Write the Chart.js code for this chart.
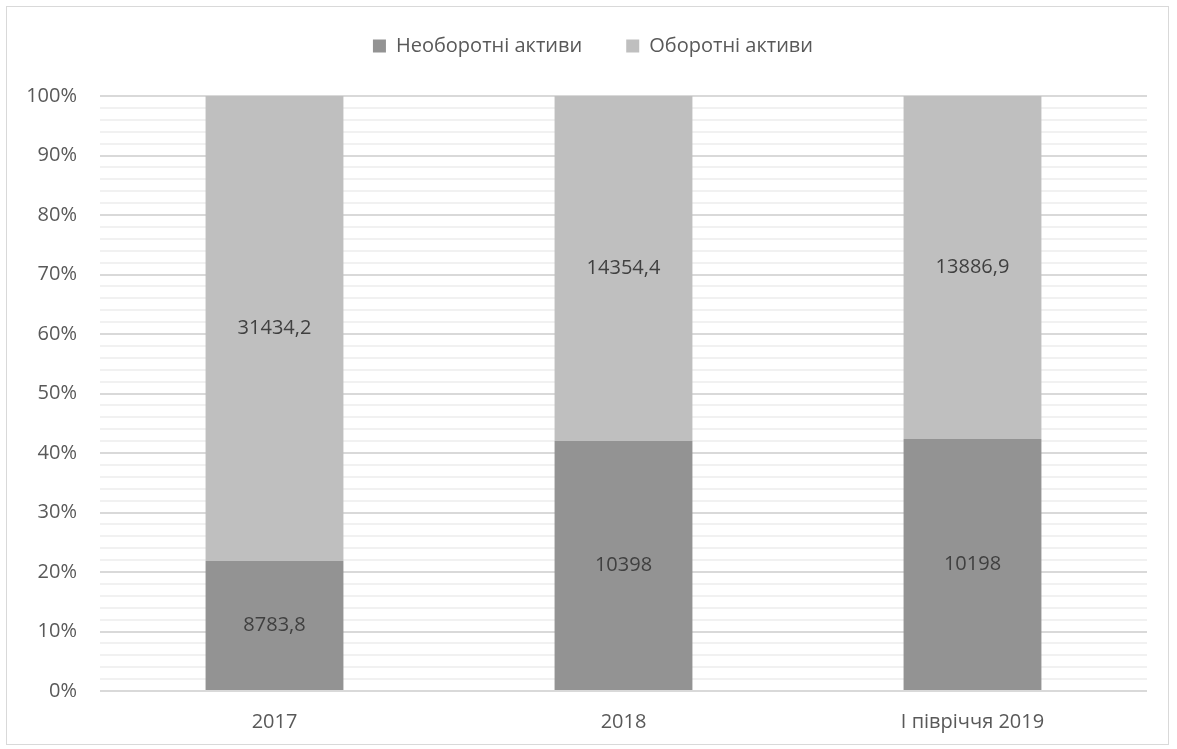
<!DOCTYPE html>
<html lang="uk">
<head>
<meta charset="utf-8">
<title>Структура активів</title>
<script src="https://cdn.jsdelivr.net/npm/chart.js@4.4.1/dist/chart.umd.min.js"></script>
<style>
    html, body { margin: 0; padding: 0; background: #fff; }
    #wrap {
        position: absolute;
        left: 6px; top: 6px;
        width: 1163px; height: 739px;
        border: 1px solid #d9d9d9;
        box-sizing: border-box;
    }
</style>
</head>
<body>
<div id="wrap"><canvas id="grafico"></canvas></div>
<script>
const periodos = ['2017', '2018', 'І півріччя 2019'];
const neoborotni = [8783.8, 10398, 10198];
const oborotni = [31434.2, 14354.4, 13886.9];
const series = ['Необоротні активи', 'Оборотні активи'];
const cores = ['#939393', '#bfbfbf'];

const FONTE = '"Open Sans", "DejaVu Sans", sans-serif';
const TAM = 20;

// частка кожної складової у загальній сумі активів, %
function percent(valores) {
    return valores.map((v, i) => v / (neoborotni[i] + oborotni[i]) * 100);
}

function formatar(v) {
    return String(v).replace('.', ',');
}

const brutos = [neoborotni, oborotni];

// підписи зі значеннями в центрі кожного сегмента
const rotulos = {
    id: 'rotulos',
    afterDatasetsDraw(chart) {
        const ctx = chart.ctx;
        ctx.save();
        ctx.font = TAM + 'px ' + FONTE;
        ctx.fillStyle = '#404040';
        ctx.textAlign = 'center';
        ctx.textBaseline = 'middle';
        chart.data.datasets.forEach((ds, di) => {
            chart.getDatasetMeta(di).data.forEach((bar, i) => {
                const y = (bar.y + bar.base) / 2;
                ctx.fillText(formatar(brutos[di][i]), bar.x, y);
            });
        });
        ctx.restore();
    }
};

// відступ між легендою та графіком + вирівнювання рядка легенди
const espacoLegenda = {
    id: 'espacoLegenda',
    beforeInit(chart) {
        const fitOrig = chart.legend.fit;
        chart.legend.fit = function () {
            fitOrig.bind(chart.legend)();
            this.height += 30;
            if (this.lineWidths) this.lineWidths[0] -= 32;
        };
    }
};

const ctx = document.getElementById('grafico').getContext('2d');
new Chart(ctx, {
    type: 'bar',
    data: {
        labels: periodos,
        datasets: [
            { label: series[0], data: percent(neoborotni), backgroundColor: cores[0] },
            { label: series[1], data: percent(oborotni), backgroundColor: cores[1] }
        ]
    },
    options: {
        responsive: true,
        maintainAspectRatio: false,
        animation: false,
        categoryPercentage: 1,
        barPercentage: 0.395,
        layout: { padding: { left: 0, right: 21, top: -15, bottom: -9 } },
        plugins: {
            legend: {
                position: 'top',
                labels: {
                    boxWidth: 13,
                    boxHeight: 13,
                    padding: 44,
                    color: '#595959',
                    font: { family: FONTE, size: TAM }
                }
            },
            tooltip: { enabled: false }
        },
        scales: {
            x: {
                stacked: true,
                grid: { display: false, drawTicks: false },
                border: { display: false },
                ticks: {
                    color: '#595959',
                    padding: 19,
                    font: { family: FONTE, size: TAM }
                }
            },
            y: {
                stacked: true,
                min: 0,
                max: 100,
                afterFit(scale) { scale.width = 93; },
                border: { display: false },
                grid: {
                    drawTicks: false,
                    color: c => (c.tick.value % 10 === 0 ? '#d9d9d9' : '#f1f1f1'),
                    lineWidth: 2
                },
                ticks: {
                    stepSize: 2,
                    autoSkip: false,
                    padding: 23,
                    color: '#595959',
                    font: { family: FONTE, size: TAM },
                    callback: v => (v % 10 === 0 ? v + '%' : '')
                }
            }
        }
    },
    plugins: [rotulos, espacoLegenda]
});
</script>
</body>
</html>
